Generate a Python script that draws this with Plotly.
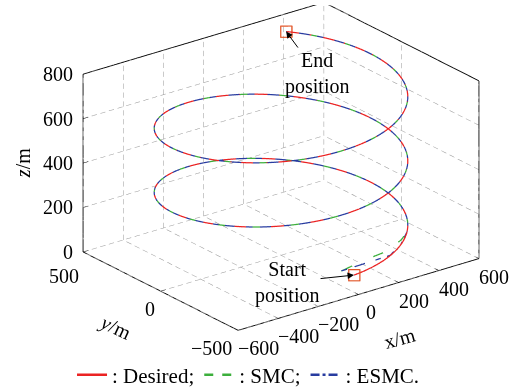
import numpy as np
import plotly.graph_objects as go

# Helix reference path (radius, start/end heights and angles in degrees)
radius = 500.0
start_angle, end_angle = -92.5, 770.0
start_z, end_z = 93.0, 785.0
n_samples = 700

# Transient start of the two controllers before they join the reference path
smc_x = [-40.0, 78.0, 198.6, 301.7]
smc_y = [-440.0, -443.0, -426.0, -386.0]
smc_z = [95.0, 115.0, 115.0, 125.0]
esmc_x = [-40.0, 79.9, 205.0, 283.9]
esmc_y = [-440.0, -453.0, -439.6, -405.5]
esmc_z = [95.0, 105.0, 100.0, 115.0]
join_angle = -45.0

x_ticks = [-600, -400, -200, 0, 200, 400, 600]
y_ticks = [-500, 0, 500]
z_ticks = [0, 200, 400, 600, 800]
x_range, y_range, z_range = [-600, 600], [-500, 500], [0, 800]

ang = np.linspace(start_angle, end_angle, n_samples)
xd = radius * np.cos(np.radians(ang))
yd = radius * np.sin(np.radians(ang))
zd = start_z + (ang - start_angle) / (end_angle - start_angle) * (end_z - start_z)

tail = ang >= join_angle
xs = np.concatenate([smc_x, xd[tail]])
ys = np.concatenate([smc_y, yd[tail]])
zs = np.concatenate([smc_z, zd[tail]])
xe = np.concatenate([esmc_x, xd[tail]])
ye = np.concatenate([esmc_y, yd[tail]])
ze = np.concatenate([esmc_z, zd[tail]])

RED = "rgb(235,35,35)"
GREEN = "rgb(60,175,60)"
BLUE = "rgb(40,60,160)"
MARK = "rgb(225,85,40)"
GRID = "rgb(150,150,150)"
FONT = "Liberation Serif"


def minus(v):
    return str(v).replace("-", "\u2212")


x0, x1 = x_range
y0, y1 = y_range
z0, z1 = z_range

# Dashed grid on the three back planes (z = min, y = max, x = max)
gx, gy, gz = [], [], []


def dashed(p, q, n):
    p, q = np.array(p, float), np.array(q, float)
    for k in range(n):
        a = p + (q - p) * (k / n)
        b = p + (q - p) * ((k + 0.6) / n)
        gx.extend([a[0], b[0], None])
        gy.extend([a[1], b[1], None])
        gz.extend([a[2], b[2], None])


for xv in x_ticks:
    dashed((xv, y0, z0), (xv, y1, z0), 19)
    dashed((xv, y1, z0), (xv, y1, z1), 20)
for yv in y_ticks:
    dashed((x0, yv, z0), (x1, yv, z0), 28)
    dashed((x1, yv, z0), (x1, yv, z1), 20)
for zv in z_ticks:
    dashed((x0, y1, zv), (x1, y1, zv), 28)
    dashed((x1, y0, zv), (x1, y1, zv), 19)

# Box outline: the three axis lines plus the far top edges and the right upright
bx, by, bz = [], [], []
for p, q in [((x0, y0, z0), (x1, y0, z0)), ((x0, y0, z0), (x0, y1, z0)),
             ((x0, y1, z0), (x0, y1, z1)), ((x0, y1, z1), (x1, y1, z1)),
             ((x1, y1, z1), (x1, y0, z1)), ((x1, y0, z1), (x1, y0, z0))]:
    bx.extend([p[0], q[0], None])
    by.extend([p[1], q[1], None])
    bz.extend([p[2], q[2], None])

# Short inward tick marks along the three axis lines
tx, ty, tz = [], [], []
for xv in x_ticks:
    tx.extend([xv, xv, None]); ty.extend([y0, y0 + 22, None]); tz.extend([z0, z0, None])
for yv in y_ticks:
    tx.extend([x0, x0 + 26, None]); ty.extend([yv, yv, None]); tz.extend([z0, z0, None])
for zv in z_ticks:
    tx.extend([x0, x0 + 26, None]); ty.extend([y1, y1, None]); tz.extend([zv, zv, None])

fig = go.Figure()
fig.add_trace(go.Scatter3d(x=gx, y=gy, z=gz, mode="lines", showlegend=False,
                           hoverinfo="skip", line=dict(color=GRID, width=1)))
fig.add_trace(go.Scatter3d(x=bx, y=by, z=bz, mode="lines", showlegend=False,
                           hoverinfo="skip", line=dict(color="black", width=1.8)))
fig.add_trace(go.Scatter3d(x=tx, y=ty, z=tz, mode="lines", showlegend=False,
                           hoverinfo="skip", line=dict(color="black", width=1.2)))
fig.add_trace(go.Scatter3d(x=xd, y=yd, z=zd, mode="lines", name=": Desired;",
                           line=dict(color=RED, width=2.5)))
fig.add_trace(go.Scatter3d(x=xs, y=ys, z=zs, mode="lines", name=": SMC;",
                           line=dict(color=GREEN, width=2.5, dash="dash")))
fig.add_trace(go.Scatter3d(x=xe, y=ye, z=ze, mode="lines", name=": ESMC.",
                           line=dict(color=BLUE, width=2.5, dash="dashdot")))
fig.add_trace(go.Scatter3d(x=[xd[0], xd[-1]], y=[yd[0], yd[-1]], z=[zd[0], zd[-1]],
                           mode="markers", showlegend=False,
                           marker=dict(symbol="square-open", size=5, color=MARK,
                                       line=dict(color=MARK, width=2))))

axis_common = dict(showbackground=False, showgrid=False, showline=False,
                   ticks="", showticklabels=False, zeroline=False,
                   showspikes=False, title=dict(text=""))

tf = dict(family=FONT, size=20, color="black")
annots = []
for zv in z_ticks:
    annots.append(dict(x=x0, y=y1, z=zv, text=minus(zv), showarrow=False, font=tf,
                       xanchor="right", yanchor="middle", xshift=-8))
for yv in y_ticks:
    far = yv == y1
    annots.append(dict(x=x0, y=yv, z=z0, text=minus(yv), showarrow=False, font=tf,
                       xanchor="right", yanchor="middle",
                       xshift=-2 if far else -4, yshift=-24 if far else -18))
for xv in x_ticks:
    annots.append(dict(x=xv, y=y0, z=z0, text=minus(xv), showarrow=False, font=tf,
                       xanchor="left", yanchor="middle",
                       xshift=6 if xv == 0 else -2, yshift=-18))
annots += [
    dict(x=x0, y=y1, z=400, text="<i>z</i>/m", showarrow=False, font=tf,
         textangle=-90, xshift=-60, yshift=0),
    dict(x=x0, y=150, z=z0, text="<i>y</i>/m", showarrow=False, font=tf,
         textangle=25, xshift=-22, yshift=-48),
    dict(x=138, y=y0, z=z0, text="x/m", showarrow=False, font=tf,
         textangle=-15.6, xshift=14, yshift=-52),
    dict(x=xd[-1], y=yd[-1], z=zd[-1], text="End<br>position", showarrow=True,
         arrowhead=2, arrowsize=1.3, arrowwidth=1, arrowcolor="black",
         ax=31, ay=42, font=tf),
    dict(x=xd[0], y=yd[0], z=zd[0], text="Start<br>position", showarrow=True,
         arrowhead=2, arrowsize=1.3, arrowwidth=1, arrowcolor="black",
         ax=-67, ay=7, font=tf),
]

theta = np.radians(21.4)
phi = np.radians(232.5)
dist = 2.0
eye = dict(x=dist * np.cos(theta) * np.cos(phi), y=dist * np.cos(theta) * np.sin(phi),
           z=dist * np.sin(theta))
zoom = 1.152

fig.update_layout(
    width=517, height=387,
    margin=dict(l=46, r=1, t=5, b=42),
    paper_bgcolor="white",
    font=dict(family=FONT, size=20, color="black"),
    scene=dict(
        xaxis=dict(axis_common, range=x_range, tickvals=x_ticks),
        yaxis=dict(axis_common, range=y_range, tickvals=y_ticks),
        zaxis=dict(axis_common, range=z_range, tickvals=z_ticks),
        aspectmode="manual",
        aspectratio=dict(x=1.55 * zoom, y=1.3 * zoom, z=0.985 * zoom),
        camera=dict(eye=eye, up=dict(x=0, y=0, z=1), center=dict(x=0, y=0, z=-0.055),
                    projection=dict(type="orthographic")),
        annotations=annots,
    ),
    legend=dict(orientation="h", xref="container", yref="container",
                x=0.4807, xanchor="center", y=0.031, yanchor="middle",
                font=dict(family=FONT, size=21), bgcolor="rgba(0,0,0,0)"),
)

fig.write_html("out.html")
